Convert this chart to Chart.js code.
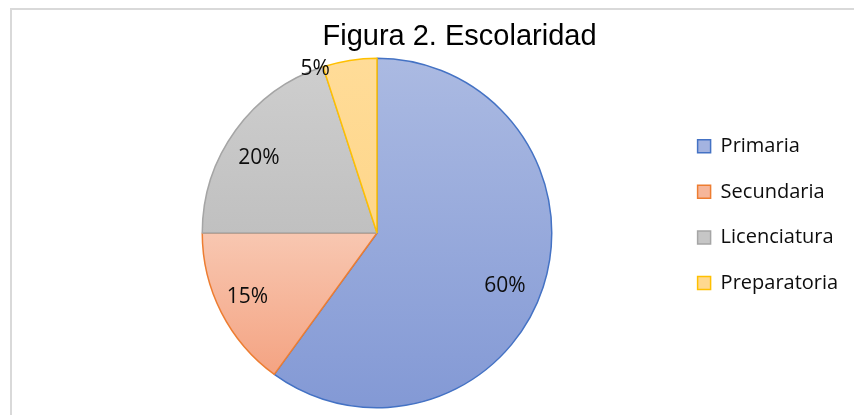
<!DOCTYPE html>
<html>
<head>
<meta charset="utf-8">
<script src="https://cdn.jsdelivr.net/npm/chart.js@4/dist/chart.umd.min.js"></script>
<style>
  html, body { margin: 0; padding: 0; background: #ffffff; overflow: hidden; }
  #frame { position: absolute; left: 10px; top: 8px; width: 900px; height: 500px; border: 2px solid #d9d9d9; box-sizing: border-box; }
  #wrap { position: absolute; left: 0; top: 0; width: 854px; height: 415px; }
</style>
</head>
<body>
<div id="frame"></div>
<div id="wrap"><canvas id="c" width="854" height="415"></canvas></div>
<script>
// ---- data ----
const titleText = 'Figura 2. Escolaridad';
const categories = ['Primaria', 'Secundaria', 'Licenciatura', 'Preparatoria'];
const values = [60, 15, 20, 5];

// ---- styles ----
const topColors    = ['#abbae2', '#f8c7b1', '#cecece', '#ffdc98'];
const bottomColors = ['#8399d5', '#f4a382', '#c0c0c0', '#fed68a'];
const legendFill   = ['#a3b3e0', '#f6b69a', '#c6c6c6', '#ffd98f'];
const borderColors = ['#4472c4', '#ed7d31', '#a5a5a5', '#ffc000'];
const labelNudge   = [[-5, 10], [-5, 0.5], [-5, 7], [0, 0]];

function sliceGradient(context) {
  const chart = context.chart;
  const area = chart.chartArea;
  const i = context.dataIndex;
  if (!area || i === undefined) return legendFill[i || 0];
  const cx = (area.left + area.right) / 2, cy = (area.top + area.bottom) / 2;
  const r = Math.min(area.width, area.height) / 2;
  const total = values.reduce((a, b) => a + b, 0);
  let before = 0;
  for (let k = 0; k < i; k++) before += values[k];
  const a0 = -Math.PI / 2 + before / total * Math.PI * 2;
  const a1 = a0 + values[i] / total * Math.PI * 2;
  const ys = [cy, cy + r * Math.sin(a0), cy + r * Math.sin(a1)];
  [-Math.PI / 2, Math.PI / 2, Math.PI * 1.5].forEach(a => {
    if (a >= a0 && a <= a1) ys.push(cy + r * Math.sin(a));
  });
  const y0 = Math.min(...ys), y1 = Math.max(...ys);
  const g = chart.ctx.createLinearGradient(0, y0, 0, y1 > y0 ? y1 : y0 + 1);
  g.addColorStop(0, topColors[i]);
  g.addColorStop(1, bottomColors[i]);
  return g;
}

const sliceLabels = {
  id: 'sliceLabels',
  afterDatasetsDraw(chart) {
    const meta = chart.getDatasetMeta(0);
    const data = chart.data.datasets[0].data;
    const total = data.reduce((a, b) => a + b, 0);
    const ctx = chart.ctx;
    ctx.save();
    ctx.font = '21px "Open Sans"';
    ctx.fillStyle = '#0d0d0d';
    ctx.textAlign = 'center';
    ctx.textBaseline = 'middle';
    meta.data.forEach((arc, i) => {
      const p = arc.getProps(['x', 'y', 'startAngle', 'endAngle', 'outerRadius'], true);
      const pct = data[i] / total * 100;
      let ang, rad;
      if (pct >= 10) { ang = (p.startAngle + p.endAngle) / 2; rad = p.outerRadius * 0.8; }
      else { ang = p.startAngle - 0.045; rad = p.outerRadius * 1.005; }
      const n = labelNudge[i] || [0, 0];
      ctx.fillText(Math.round(pct) + '%', p.x + rad * Math.cos(ang) + n[0], p.y + rad * Math.sin(ang) + n[1]);
    });
    ctx.restore();
  }
};

new Chart(document.getElementById('c'), {
  type: 'pie',
  data: {
    labels: categories,
    datasets: [{
      data: values,
      backgroundColor: sliceGradient,
      borderColor: borderColors,
      borderWidth: 1.5
    }]
  },
  options: {
    responsive: false,
    animation: false,
    events: [],
    layout: { padding: { left: 82, right: 17, top: 0, bottom: 6.5 } },
    plugins: {
      title: {
        display: true,
        text: titleText,
        color: '#000000',
        font: { family: '"Liberation Sans", Arial, sans-serif', size: 29, weight: 'normal', lineHeight: 1.2 },
        padding: { top: 19.25, bottom: 3.45 }
      },
      legend: {
        position: 'right',
        align: 'start',
        maxWidth: 165,
        title: { display: true, text: '', font: { size: 10, lineHeight: 1.2 }, padding: { top: 98.6, bottom: 0 } },
        labels: {
          color: '#0d0d0d',
          font: { family: '"Open Sans", sans-serif', size: 20 },
          boxWidth: 13,
          boxHeight: 13,
          padding: 25.6,
          generateLabels(chart) {
            const items = Chart.overrides.pie.plugins.legend.labels.generateLabels(chart);
            items.forEach((it, i) => { it.fillStyle = legendFill[i]; it.strokeStyle = borderColors[i]; it.lineWidth = 1.5; });
            return items;
          }
        }
      },
      tooltip: { enabled: false }
    }
  },
  plugins: [sliceLabels]
});
</script>
</body>
</html>
